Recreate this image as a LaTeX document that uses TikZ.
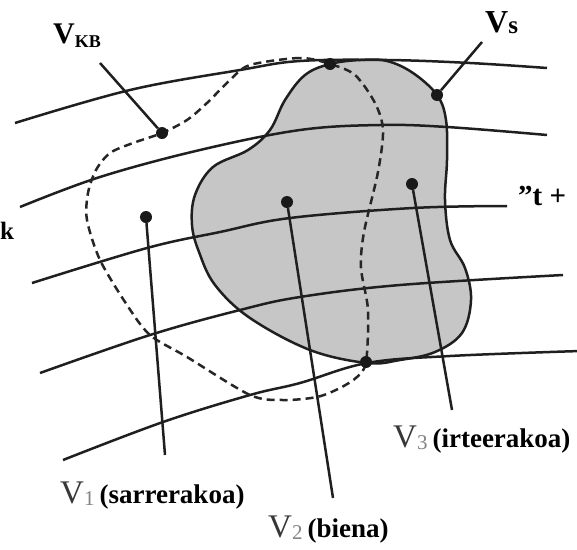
\documentclass[tikz,border=0pt]{standalone}
\usepackage{fontspec}
\setmainfont{Liberation Serif}
\usetikzlibrary{positioning}
\definecolor{region}{RGB}{198,198,198}
\definecolor{vgrey}{RGB}{55,55,55}
\definecolor{subgrey}{RGB}{130,130,130}

\begin{document}
\begin{tikzpicture}[x=1pt, y=-1pt,
    flow/.style={line width=2.5pt, draw=black!88},
    volume/.style={line width=2.5pt, draw=black!88, fill=region},
    kbline/.style={line width=2.5pt, draw=black!85, dash pattern=on 8pt off 5pt},
    dot/.style={circle, fill=black!90, minimum size=12pt, inner sep=0pt},
    leader/.style={line width=2.5pt, draw=black!88},
    lbl/.style={anchor=base west, inner sep=0pt}
  ]
  \clip (0,0) rectangle (577,549);
  % system volume (grey)
  \draw[volume] plot[smooth cycle, tension=0.6] coordinates {(330,64) (360,60) (387,61) (413,73) (437,95) (446,120) (447,160) (445,200) (450,240) (465,268) (471,300) (462,333) (435,352) (400,360) (367,363) (310,350) (250,318) (215,285) (199,252) (192,225) (195,195) (213,167) (248,150) (270,130) (285,100) (305,75)};
  % streamlines
  \draw[flow] plot[smooth, tension=0.6] coordinates {(15,123) (130,90) (240,70) (300,61) (387,60) (470,63) (547,68)};
  \draw[flow] plot[smooth, tension=0.6] coordinates {(20,207) (100,177) (200,150) (300,130) (380,125) (447,127) (547,135)};
  \draw[flow] plot[smooth, tension=0.6] coordinates {(32,283) (147,248) (220,232) (290,218) (413,208) (507,206)};
  \draw[flow] plot[smooth, tension=0.6] coordinates {(40,373) (150,335) (240,310) (300,297) (400,285) (563,275)};
  \draw[flow] plot[smooth, tension=0.6] coordinates {(63,460) (163,422) (250,395) (300,383) (367,363) (450,356) (580,351)};
  % control volume (dashed)
  \draw[kbline] plot[smooth cycle, tension=0.5] coordinates {(330,64) (300,58) (250,65) (230,80) (207,103) (187,120) (162,133) (133,143) (110,153) (96,170) (88,193) (87,220) (100,260) (127,305) (150,335) (187,357) (250,395) (283,400) (317,397) (340,388) (357,377) (366,362) (368,310) (361,268) (364,232) (378,172) (383,130) (375,103) (355,75)};
  % dots
  \node[dot] (kb) at (162,133) {};
  \node[dot] (top) at (330,64) {};
  \node[dot] (s) at (437,95) {};
  \node[dot] (bot) at (366,362) {};
  \node[dot] (p1) at (146,217) {};
  \node[dot] (p2) at (287,202) {};
  \node[dot] (p3) at (412,184) {};
  % leader ends
  \coordinate (kbend) at (100,63);
  \coordinate (send) at (482,42);
  \coordinate (p1end) at (165,455);
  \coordinate (p2end) at (333,498);
  \coordinate (p3end) at (452,410);
  \draw[leader] (kbend) -- (kb);
  \draw[leader] (send) -- (s);
  \draw[leader] (p1) -- (p1end);
  \draw[leader] (p2) -- (p2end);
  \draw[leader] (p3) -- (p3end);
  % labels
  \node[lbl] (lkb) at (53,43) {\bfseries\fontsize{30}{30}\selectfont V\raisebox{-4pt}{\fontsize{18}{18}\selectfont KB}};
  \node[lbl] (ls) at (485,32) {\bfseries\fontsize{32}{32}\selectfont V\raisebox{-1pt}{\fontsize{25}{25}\selectfont s}};
  \node[lbl] (l1) at (60,503) {{\fontsize{33}{33}\selectfont\color{vgrey}V}{\fontsize{21}{21}\selectfont\color{subgrey}\raisebox{-2pt}{1}}\hspace{5pt}{\bfseries\fontsize{27}{27}\selectfont (sarrerakoa)}};
  \node[lbl] (l2) at (268,537) {{\fontsize{33}{33}\selectfont\color{vgrey}V}{\fontsize{21}{21}\selectfont\color{subgrey}\raisebox{-2pt}{2}}\hspace{5pt}{\bfseries\fontsize{27}{27}\selectfont (biena)}};
  \node[lbl] (l3) at (393,447) {{\fontsize{33}{33}\selectfont\color{vgrey}V}{\fontsize{21}{21}\selectfont\color{subgrey}\raisebox{-2pt}{3}}\hspace{5pt}{\bfseries\fontsize{27}{27}\selectfont (irteerakoa)}};
  \node[lbl] (lt) at (518,205) {\bfseries\fontsize{29}{29}\selectfont ''t +};
  \node[lbl] (lk) at (0,239) {\bfseries\fontsize{25}{25}\selectfont k};
\end{tikzpicture}
\end{document}
